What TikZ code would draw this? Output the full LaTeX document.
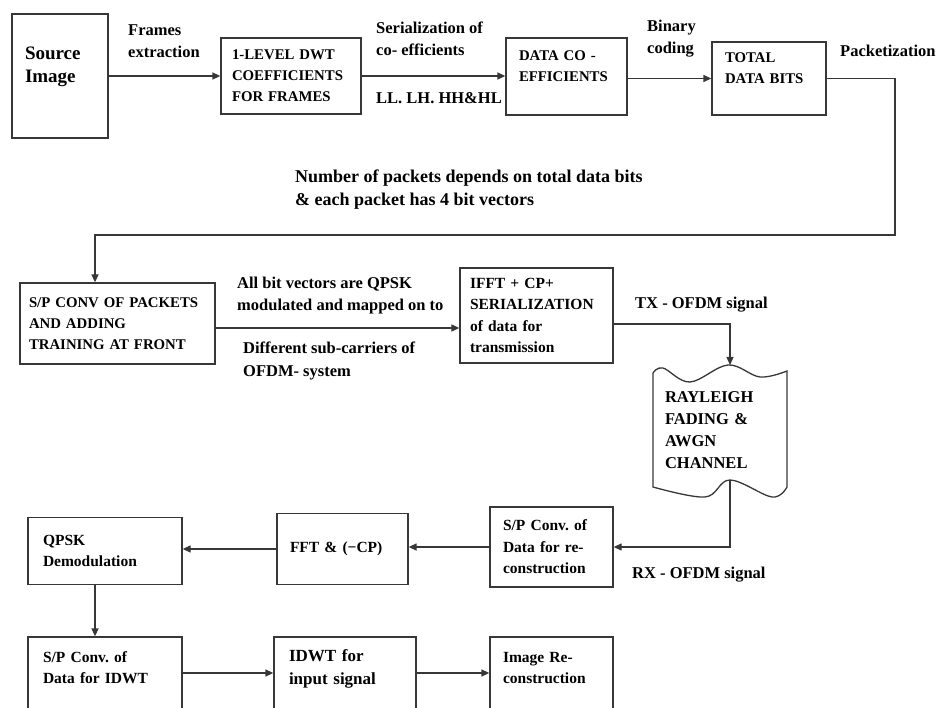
\documentclass[tikz,border=0pt]{standalone}
\usepackage{fontspec}
\setmainfont{Liberation Serif}
\usetikzlibrary{
  arrows.meta,
  positioning,
  calc
}
\hyphenpenalty=10000
\exhyphenpenalty=10000
\frenchspacing
\definecolor{linegray}{RGB}{55,55,55}
\tikzset{
  block/.style={
    rectangle, draw=linegray, line width=1.3pt, align=left,
    inner xsep=13pt, inner ysep=2pt,
    font=\bfseries\fontsize{15.5}{21.5}\selectfont
  },
  capsblock/.style={
    block, font=\bfseries\fontsize{14.8}{21}\selectfont
  },
  channel/.style={
    block, draw=none, inner xsep=12pt,
    font=\bfseries\fontsize{16.5}{22}\selectfont
  },
  note/.style={
    inner sep=0pt, align=left, anchor=west,
    font=\bfseries\fontsize{16.5}{22.5}\selectfont
  },
  arrow/.style={-{Triangle[length=8pt, width=7pt]}, line width=1.3pt, color=linegray},
  wave/.style={line width=1.3pt, draw=linegray}
}

\begin{document}
\begin{tikzpicture}[x=1pt, y=-1pt]
  \useasboundingbox (0,0) rectangle (937,708);

  \node[block, text width=70pt, minimum height=124pt,
        font=\bfseries\fontsize{19}{23}\selectfont]
    (src) at (60,76) {Source\\Image\\\mbox{}};
  \node[capsblock, inner xsep=11pt, text width=118pt, minimum height=76pt]
    (dwt) at (291,76) {1-LEVEL DWT\\COEFFICIENTS\\FOR FRAMES};
  \node[capsblock, text width=95pt, minimum height=77pt]
    (coef) at (566.5,76.5) {DATA CO -\\EFFICIENTS\\\mbox{}};
  \node[capsblock, text width=88pt, minimum height=73pt]
    (bits) at (769,78.5) {TOTAL\\DATA BITS\\\mbox{}};

  \node[capsblock, inner xsep=9pt, text width=177pt, minimum height=81pt]
    (spconv) at (117.5,323.5) {S/P CONV OF PACKETS\\AND ADDING\\TRAINING AT FRONT};
  \node[block, inner xsep=10pt, text width=133pt, minimum height=95pt]
    (ifft) at (536.5,315.5) {IFFT + CP+\\SERIALIZATION\\of data for\\transmission};
  \node[channel, text width=110pt, minimum height=120pt]
    (chan) at (720,430) {RAYLEIGH\\FADING \&\\AWGN\\CHANNEL};

  \node[block, text width=97pt, minimum height=80pt]
    (sprx) at (551.5,547) {S/P Conv. of\\Data for re-\\construction};
  \node[block, text width=105pt, minimum height=71pt]
    (fft) at (342.5,549) {FFT \& (−CP)};
  \node[block, inner xsep=15pt, text width=124pt, minimum height=67pt]
    (qpsk) at (105,551) {QPSK\\Demodulation};

  \node[block, inner xsep=15pt, text width=124pt, minimum height=83pt]
    (spidwt) at (105,678.5) {S/P Conv. of\\Data for IDWT\\\mbox{}};
  \node[block, inner xsep=15pt, text width=112pt, minimum height=83pt,
        font=\bfseries\fontsize{17}{23}\selectfont]
    (idwt) at (345,678.5) {IDWT for\\input signal\\\mbox{}};
  \node[block, text width=97pt, minimum height=83pt]
    (recon) at (551.5,678.5) {Image Re-\\construction\\\mbox{}};

  % wavy outline of the channel
  \begin{scope}[shift={(chan.center)}]
    \draw[wave] plot[smooth, tension=0.6] coordinates
        {(-67,-57) (-57,-62) (-30,-48) (8,-65) (40,-53) (67,-59)}
      -- plot[smooth, tension=0.6] coordinates
        {(67,57) (52,67) (10,50) (-15,67) (-67,57)}
      -- cycle;
    \coordinate (chantop) at (10,-65);
    \coordinate (chanbot) at (10,50);
  \end{scope}

  \node[note] (frames) at (128,41) {Frames\\extraction};
  \node[note] (serial) at (376,39) {Serialization of\\co- efficients};
  \node[note] (bands)  at (376,98) {LL. LH. HH\&HL};
  \node[note] (binary) at (647,38.5) {Binary\\coding};
  \node[note] (packet) at (840,51) {Packetization};
  \node[note, font=\bfseries\fontsize{18}{23}\selectfont]
    (npk) at (295,189.5) {Number of packets depends on total data bits\\\& each packet has 4 bit vectors};
  \node[note] (mapq)  at (237,295.5) {All bit vectors are QPSK\\modulated and mapped on to};
  \node[note] (subc)  at (243,361) {Different sub-carriers of\\OFDM- system};
  \node[note] (txsig) at (635,305) {TX - OFDM signal};
  \node[note] (rxsig) at (632,575) {RX - OFDM signal};

  \coordinate (pk) at (895,235);

  \draw[arrow] (src) -- (dwt);
  \draw[arrow] (dwt.east) -- (dwt.east -| coef.west);
  \draw[arrow] (coef.east |- bits) -- (bits);
  \draw[arrow] (bits.east) -| (pk) -| ([xshift=-22.5pt]spconv.north);
  \draw[arrow] ([yshift=-4.5pt]spconv.east) -- ([yshift=-4.5pt]spconv.east -| ifft.west);
  \draw[arrow] ([yshift=-8.5pt]ifft.east) -| (chantop);
  \draw[arrow] (chanbot) |- (sprx.east);
  \draw[arrow] (sprx.west) -- (sprx.west -| fft.east);
  \draw[arrow] (fft.west) -- (fft.west -| qpsk.east);
  \draw[arrow] ([xshift=-10pt]qpsk.south) -- ([xshift=-10pt]qpsk.south |- spidwt.north);
  \draw[arrow] ([yshift=5.5pt]spidwt.east) -- ([yshift=5.5pt]spidwt.east -| idwt.west);
  \draw[arrow] ([yshift=5.5pt]idwt.east) -- ([yshift=5.5pt]idwt.east -| recon.west);
\end{tikzpicture}
\end{document}
